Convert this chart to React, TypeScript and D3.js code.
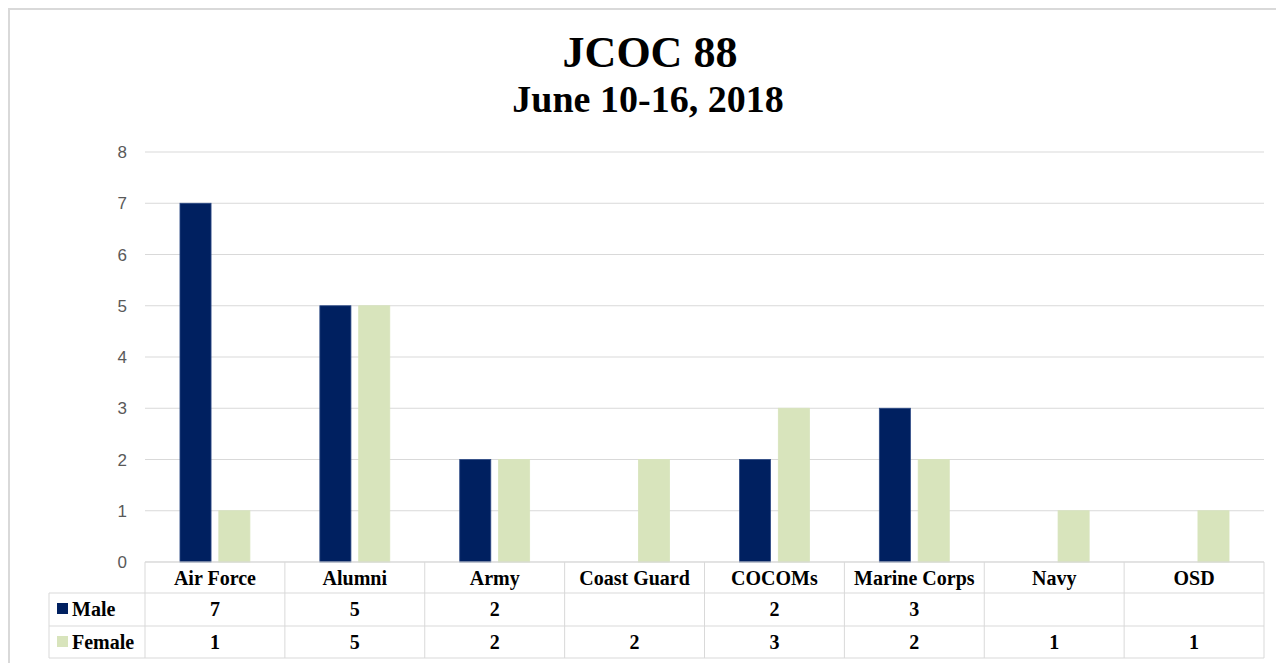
import React, { Fragment, useEffect, useRef } from 'react';
import * as d3 from 'd3';

const categories = ['Air Force', 'Alumni', 'Army', 'Coast Guard', 'COCOMs', 'Marine Corps', 'Navy', 'OSD'];
const male = [7, 5, 2, null, 2, 3, null, null];
const female = [1, 5, 2, 2, 3, 2, 1, 1];
const yTicks = [0, 1, 2, 3, 4, 5, 6, 7, 8];

const seriesNames = ['Male', 'Female'];
const colors = ['#002060', '#d8e4bc'];

const App = () => {
  const svgRef = useRef(null);

  useEffect(() => {
    const svg = d3.select(svgRef.current);
    svg.selectAll('*').remove();

    const W = 1276;
    const H = 663;
    const left = 145;
    const right = 1264;
    const top = 152;
    const bottom = 562;
    const rowH = [31, 33, 32];

    // chart frame
    svg.append('rect')
      .attr('x', 9).attr('y', 9)
      .attr('width', W + 20).attr('height', H + 20)
      .attr('fill', '#fff')
      .attr('stroke', '#d9d9d9')
      .attr('stroke-width', 2);

    // titles
    svg.append('text')
      .attr('x', 650).attr('y', 67)
      .attr('text-anchor', 'middle')
      .style('font-family', '"Liberation Serif", "Times New Roman", serif')
      .style('font-weight', 'bold')
      .style('font-size', '44px')
      .attr('fill', '#000')
      .text('JCOC 88');
    svg.append('text')
      .attr('x', 648).attr('y', 112)
      .attr('text-anchor', 'middle')
      .style('font-family', '"Liberation Serif", "Times New Roman", serif')
      .style('font-weight', 'bold')
      .style('font-size', '38px')
      .attr('fill', '#000')
      .text('June 10-16, 2018');

    const y = d3.scaleLinear().domain([0, 8]).range([bottom, top]);
    const x = d3.scaleBand().domain(categories).range([left, right]).paddingInner(0).paddingOuter(0);
    const bw = x.bandwidth();
    const x1 = d3.scaleBand().domain(seriesNames)
      .range([bw * 0.25, bw * 0.75])
      .paddingInner(0.2);

    // gridlines
    svg.append('g').selectAll('line')
      .data(yTicks)
      .enter().append('line')
      .attr('x1', left).attr('x2', right)
      .attr('y1', d => y(d)).attr('y2', d => y(d))
      .attr('stroke', '#d9d9d9')
      .attr('stroke-width', 1);

    // y labels
    svg.append('g').selectAll('text')
      .data(yTicks)
      .enter().append('text')
      .attr('x', 127)
      .attr('y', d => y(d) + 6)
      .attr('text-anchor', 'end')
      .style('font-family', '"Liberation Sans", Arial, sans-serif')
      .style('font-size', '17px')
      .attr('fill', '#595959')
      .text(d => d);

    // bars
    const series = [male, female];
    series.forEach((vals, si) => {
      const data = categories.map((c, i) => ({ c, v: vals[i] })).filter(d => d.v != null);
      svg.append('g').selectAll('rect')
        .data(data)
        .enter().append('rect')
        .attr('x', d => x(d.c) + x1(seriesNames[si]))
        .attr('y', d => y(d.v))
        .attr('width', x1.bandwidth())
        .attr('height', d => bottom - y(d.v))
        .attr('fill', colors[si])
        .attr('stroke', si === 0 ? '#2d4a85' : '#d8e4bc')
        .attr('stroke-width', 0.8);
    });

    // data table
    const t = svg.append('g');
    const rowTop = [bottom, bottom + rowH[0], bottom + rowH[0] + rowH[1]];
    const tableBottom = rowTop[2] + rowH[2];
    const legLeft = 49;
    const lineColor = '#d9d9d9';

    // horizontal lines
    t.append('line').attr('x1', left).attr('x2', right).attr('y1', rowTop[0]).attr('y2', rowTop[0]).attr('stroke', lineColor);
    [rowTop[1], rowTop[2], tableBottom].forEach(yy => {
      t.append('line').attr('x1', legLeft).attr('x2', right).attr('y1', yy).attr('y2', yy).attr('stroke', lineColor);
    });
    // vertical lines
    t.append('line').attr('x1', legLeft).attr('x2', legLeft).attr('y1', rowTop[1]).attr('y2', tableBottom).attr('stroke', lineColor);
    d3.range(categories.length + 1).forEach(i => {
      const xx = left + i * bw;
      t.append('line').attr('x1', xx).attr('x2', xx).attr('y1', rowTop[0]).attr('y2', tableBottom).attr('stroke', lineColor);
    });

    const cellFont = (sel) => sel
      .style('font-family', '"Liberation Serif", "Times New Roman", serif')
      .style('font-weight', 'bold')
      .style('font-size', '20px')
      .attr('fill', '#000');

    // header row
    t.append('g').selectAll('text')
      .data(categories)
      .enter().append('text')
      .attr('x', d => x(d) + bw / 2)
      .attr('y', rowTop[0] + 23)
      .attr('text-anchor', 'middle')
      .call(cellFont)
      .text(d => d);

    // series rows
    series.forEach((vals, si) => {
      const ry = rowTop[si + 1];
      t.append('rect')
        .attr('x', 57).attr('y', ry + 10)
        .attr('width', 11).attr('height', 11)
        .attr('fill', colors[si]);
      t.append('text')
        .attr('x', 72).attr('y', ry + 23)
        .call(cellFont)
        .text(seriesNames[si]);
      t.append('g').selectAll('text')
        .data(categories.map((c, i) => ({ c, v: vals[i] })).filter(d => d.v != null))
        .enter().append('text')
        .attr('x', d => x(d.c) + bw / 2)
        .attr('y', ry + 23)
        .attr('text-anchor', 'middle')
        .call(cellFont)
        .text(d => d.v);
    });
  }, []);

  return (
    <Fragment>
      <svg ref={svgRef} width={1276} height={663}
        style={{ position: 'absolute', left: 0, top: 0, display: 'block' }} />
    </Fragment>
  );
};

export default App;
